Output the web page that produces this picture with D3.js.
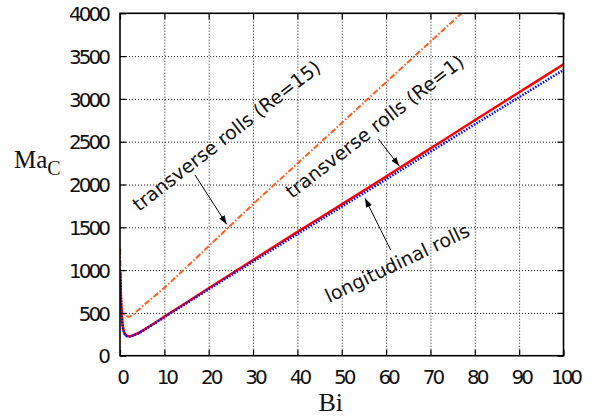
<!DOCTYPE html>
<html lang="en">
<head>
    <meta charset="UTF-8">
    <title>Critical Marangoni number vs Biot number</title>
    <style>
        body { margin: 0; background: #fff; }
        .grid line { stroke: #222; stroke-width: 1; stroke-dasharray: 1,2; }
        .grid path { display: none; }
        .ticks path { display: none; }
        .ticks line { stroke: #000; stroke-width: 1.2; }
        .ticks text {
            font-family: "DejaVu Sans", sans-serif;
            font-size: 20px;
            letter-spacing: -3px;
            fill: #111;
        }
        .note {
            font-family: "DejaVu Sans", sans-serif;
            font-size: 19px;
            fill: #111;
        }
        .title {
            font-family: "Liberation Serif", "DejaVu Serif", serif;
            fill: #111;
        }
    </style>
</head>
<body>
    <script src="https://d3js.org/d3.v7.min.js"></script>
    <script>
        const bi = [0.05, 0.1, 0.2, 0.3, 0.5, 0.7, 1, 1.5, 2, 3, 4, 5, 6, 8, 10, 15, 20, 30, 40, 50, 60, 70, 80, 90, 100];

        // transverse rolls, Re=1 (red solid)
        const transRe1 = [980, 900, 700, 560, 400, 320, 265, 235, 228, 238, 262, 290, 322, 388, 456, 622, 788, 1118, 1446, 1768, 2094, 2422, 2750, 3077, 3404];

        // longitudinal rolls (blue dotted)
        const longRolls = [960, 880, 690, 550, 395, 315, 260, 230, 224, 234, 258, 286, 318, 384, 450, 612, 775, 1098, 1420, 1740, 2060, 2382, 2702, 3020, 3338];

        // transverse rolls, Re=15 (orange dash-dot), leaves the frame near Bi=77
        const transRe15 = [1250, 1000, 720, 600, 520, 495, 478, 462, 456, 482, 530, 575, 620, 705, 795, 1035, 1280, 1770, 2245, 2720, 3195, 3670, 4140, 4610, 5080];

        const xTicks = [0, 10, 20, 30, 40, 50, 60, 70, 80, 90, 100];
        const yTicks = [0, 500, 1000, 1500, 2000, 2500, 3000, 3500, 4000];

        const width = 592, height = 418;
        const plotLeft = 120, plotRight = 563.5, plotTop = 13.3, plotBottom = 355.7;

        const svg = d3.select("body").append("svg")
            .attr("width", width)
            .attr("height", height);

        svg.append("rect").attr("width", width).attr("height", height).attr("fill", "#fff");

        const x = d3.scaleLinear().domain([0, 100]).range([plotLeft, plotRight]);
        const y = d3.scaleLinear().domain([0, 4000]).range([plotBottom, plotTop]);

        // dotted grid at the inner ticks
        svg.append("g").attr("class", "grid")
            .attr("transform", `translate(0,${plotBottom})`)
            .call(d3.axisBottom(x).tickValues(xTicks.slice(1, -1)).tickSize(-(plotBottom - plotTop)).tickFormat(""));
        svg.append("g").attr("class", "grid")
            .attr("transform", `translate(${plotLeft},0)`)
            .call(d3.axisLeft(y).tickValues(yTicks.slice(1, -1)).tickSize(-(plotRight - plotLeft)).tickFormat(""));

        // curves, clipped to the frame
        svg.append("clipPath").attr("id", "frame")
            .append("rect").attr("x", plotLeft).attr("y", plotTop)
            .attr("width", plotRight - plotLeft).attr("height", plotBottom - plotTop);

        const line = d3.line()
            .x((d, i) => x(bi[i]))
            .y(d => y(d))
            .curve(d3.curveMonotoneX);

        const curves = svg.append("g").attr("clip-path", "url(#frame)").attr("fill", "none");

        curves.append("path").datum(transRe15)
            .attr("d", line)
            .attr("stroke", "#ff5e1f")
            .attr("stroke-width", 2)
            .attr("stroke-dasharray", "6,2,1.5,2");

        curves.append("path").datum(transRe1)
            .attr("d", line)
            .attr("stroke", "#ff0000")
            .attr("stroke-width", 2.5);

        curves.append("path").datum(longRolls)
            .attr("d", line)
            .attr("stroke", "#0000ff")
            .attr("stroke-width", 2.5)
            .attr("stroke-dasharray", "1.5,1.5");

        // inward ticks on all four sides
        const tick = 6;
        const fmt = d3.format("d");
        const xAxis = svg.append("g").attr("class", "ticks")
            .attr("transform", `translate(0,${plotBottom})`)
            .call(d3.axisBottom(x).tickValues(xTicks).tickFormat(fmt).tickSize(-tick).tickPadding(0));
        xAxis.selectAll("text").attr("y", 28.6).attr("dy", 0).attr("dx", 1.5);

        const yAxis = svg.append("g").attr("class", "ticks")
            .attr("transform", `translate(${plotLeft},0)`)
            .call(d3.axisLeft(y).tickValues(yTicks).tickFormat(fmt).tickSize(-tick).tickPadding(0));
        yAxis.selectAll("text").attr("x", -12).attr("dy", "0.36em");

        svg.append("g").attr("class", "ticks")
            .attr("transform", `translate(0,${plotTop})`)
            .call(d3.axisTop(x).tickValues(xTicks).tickSize(-tick).tickFormat(""));
        svg.append("g").attr("class", "ticks")
            .attr("transform", `translate(${plotRight},0)`)
            .call(d3.axisRight(y).tickValues(yTicks).tickSize(-tick).tickFormat(""));

        // frame
        svg.append("rect")
            .attr("x", plotLeft).attr("y", plotTop)
            .attr("width", plotRight - plotLeft).attr("height", plotBottom - plotTop)
            .attr("fill", "none").attr("stroke", "#000").attr("stroke-width", 1.6);

        // axis titles
        const ma = svg.append("text").attr("class", "title")
            .attr("x", 14).attr("y", 168)
            .attr("font-size", 25);
        ma.append("tspan").text("Ma");
        ma.append("tspan").attr("font-size", 20).attr("dy", 7).text("C");

        svg.append("text").attr("class", "title")
            .attr("x", (plotLeft + plotRight) / 2 - 11).attr("y", 411)
            .attr("font-size", 26)
            .attr("text-anchor", "middle")
            .text("Bi");

        // annotations with arrows
        svg.append("defs").append("marker")
            .attr("id", "head")
            .attr("viewBox", "0 0 10 10")
            .attr("refX", 10).attr("refY", 5)
            .attr("markerWidth", 9).attr("markerHeight", 9)
            .attr("markerUnits", "userSpaceOnUse")
            .attr("orient", "auto")
            .append("path").attr("d", "M0,1.5 L10,5 L0,8.5 Z").attr("fill", "#000");

        const notes = [
            { text: "transverse rolls (Re=15)", bx: 139, by: 212, angle: -37.8, from: [195, 175], to: [226.7, 224.3] },
            { text: "transverse rolls (Re=1)", bx: 292, by: 199, angle: -37.8, from: [378.3, 139], to: [399.3, 166] },
            { text: "longitudinal rolls", bx: 329, by: 303, angle: -25.5, from: [390.7, 250], to: [365, 198.3] }
        ];

        notes.forEach(n => {
            svg.append("text").attr("class", "note")
                .attr("transform", `translate(${n.bx},${n.by}) rotate(${n.angle})`)
                .text(n.text);
            svg.append("line")
                .attr("x1", n.from[0]).attr("y1", n.from[1])
                .attr("x2", n.to[0]).attr("y2", n.to[1])
                .attr("stroke", "#000").attr("stroke-width", 1)
                .attr("marker-end", "url(#head)");
        });
    </script>
</body>
</html>
